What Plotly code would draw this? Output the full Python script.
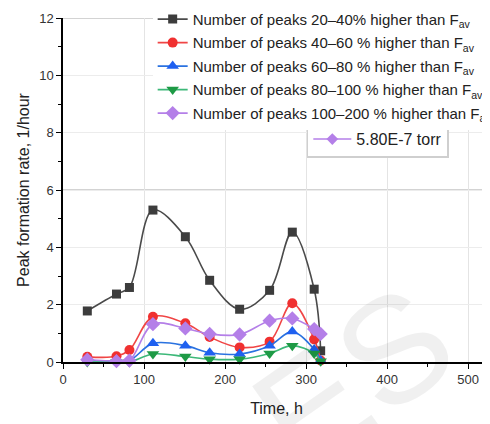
import plotly.graph_objects as go

time_h = [30, 66, 82, 111, 151, 181, 218, 255, 283, 310, 318]
peaks_20_40 = [1.78, 2.37, 2.6, 5.3, 4.37, 2.85, 1.84, 2.5, 4.53, 2.54, 0.39]
peaks_40_60 = [0.18, 0.2, 0.42, 1.58, 1.35, 0.87, 0.51, 0.71, 2.05, 0.79, 0.05]
peaks_60_80 = [0.05, 0.03, 0.05, 0.65, 0.57, 0.32, 0.28, 0.57, 1.06, 0.44, 0.05]
peaks_80_100 = [0.0, 0.0, 0.0, 0.28, 0.19, 0.1, 0.1, 0.3, 0.57, 0.3, 0.03]
peaks_100_200 = [0.08, 0.03, 0.05, 1.32, 1.17, 0.98, 0.96, 1.44, 1.52, 1.15, 0.98]

names = [
    "Number of peaks 20\u201340% higher than F<sub>av</sub>",
    "Number of peaks 40\u201360 % higher than F<sub>av</sub>",
    "Number of peaks 60\u201380 % higher than F<sub>av</sub>",
    "Number of peaks 80\u2013100 % higher than F<sub>av</sub>",
    "Number of peaks 100\u2013200 % higher than F<sub>av</sub>",
]
pressure_label = "5.80E-7 torr"
x_ticks = [0, 100, 200, 300, 400, 500]
y_ticks = [0, 2, 4, 6, 8, 10, 12]

series = [peaks_20_40, peaks_40_60, peaks_60_80, peaks_80_100, peaks_100_200]
line_colors = ["#4a4a4a", "#f04545", "#2a72e0", "#3cb878", "#b47fe8"]
marker_colors = ["#3c3c3c", "#f03030", "#1f60f0", "#1e9a45", "#b47fe8"]
symbols = ["square", "circle", "triangle-up", "triangle-down", "diamond"]
sizes = [9, 10, 11, 11, 11]

FONT = "Arial, Liberation Sans, sans-serif"
fig = go.Figure()

# pressure legend (drawn first, underneath)
fig.add_trace(go.Scatter(
    x=[None], y=[None], name=pressure_label, mode="lines+markers",
    line=dict(color="#b47fe8", width=1.6),
    marker=dict(symbol="diamond", size=9, color="#b47fe8"),
    legend="legend",
))

for i, (ys, nm, lc, mc, sym, sz) in enumerate(zip(series, names, line_colors, marker_colors, symbols, sizes)):
    fig.add_trace(go.Scatter(
        x=time_h, y=ys, name=nm, mode="lines+markers", legendgroup=f"g{i}",
        line=dict(color=lc, width=1.6, shape="spline", smoothing=1.0),
        marker=dict(symbol=sym, size=sz, color=mc),
        cliponaxis=False, legend="legend2",
    ))

# darker reference lines at 6 and 12
for yv in (6, 12):
    fig.add_shape(type="line", xref="paper", yref="y", x0=0, x1=1, y0=yv, y1=yv,
                  line=dict(color="#a8a8a8", width=1.2), layer="below")

fig.add_annotation(text="ES", xref="paper", yref="paper", x=0.99, y=-0.42,
                   showarrow=False, textangle=-35,
                   font=dict(size=150, color="rgba(0,0,0,0.06)", family=FONT))

# page body has an 8px margin, so the figure is 8px smaller and margins shifted
fig.update_layout(
    width=482, height=416,
    margin=dict(l=55, r=0, t=10, b=62, autoexpand=False),
    plot_bgcolor="white", paper_bgcolor="white",
    font=dict(family=FONT, color="#333333", size=13),
    xaxis=dict(
        range=[0, 527], tickvals=x_ticks, showline=True, linecolor="black", linewidth=1.5,
        ticks="outside", ticklen=5, tickcolor="black", tickwidth=1.2, automargin=False,
        minor=dict(dtick=50, ticks="outside", ticklen=3, tickcolor="black", showgrid=False),
        showgrid=True, gridcolor="#e4e4e4", gridwidth=1, zeroline=False,
        title=dict(text="Time, h", font=dict(size=16, color="#222"), standoff=16),
        tickfont=dict(size=13, color="#333"),
    ),
    yaxis=dict(
        range=[0, 12], tickvals=y_ticks, showline=True, linecolor="black", linewidth=1.5,
        ticks="outside", ticklen=5, tickcolor="black", tickwidth=1.2, automargin=False,
        minor=dict(dtick=1, ticks="outside", ticklen=3, tickcolor="black", showgrid=False),
        showgrid=True, gridcolor="#ececec", gridwidth=1, zeroline=False,
        title=dict(text="Peak formation rate, 1/hour", font=dict(size=16, color="#222"), standoff=6),
        tickfont=dict(size=13, color="#333"),
    ),
    showlegend=True,
    legend=dict(
        x=0.571, y=0.594, xanchor="left", yanchor="bottom",
        bgcolor="white", bordercolor="#cfcfcf", borderwidth=1.5,
        font=dict(size=16, color="#222", family=FONT), itemwidth=38,
    ),
    legend2=dict(
        x=0.21, y=1.044, xanchor="left", yanchor="top",
        bgcolor="white", borderwidth=0,
        font=dict(size=15, color="#222", family=FONT),
        tracegroupgap=1, itemwidth=30,
    ),
)

fig.write_html("out.html")
